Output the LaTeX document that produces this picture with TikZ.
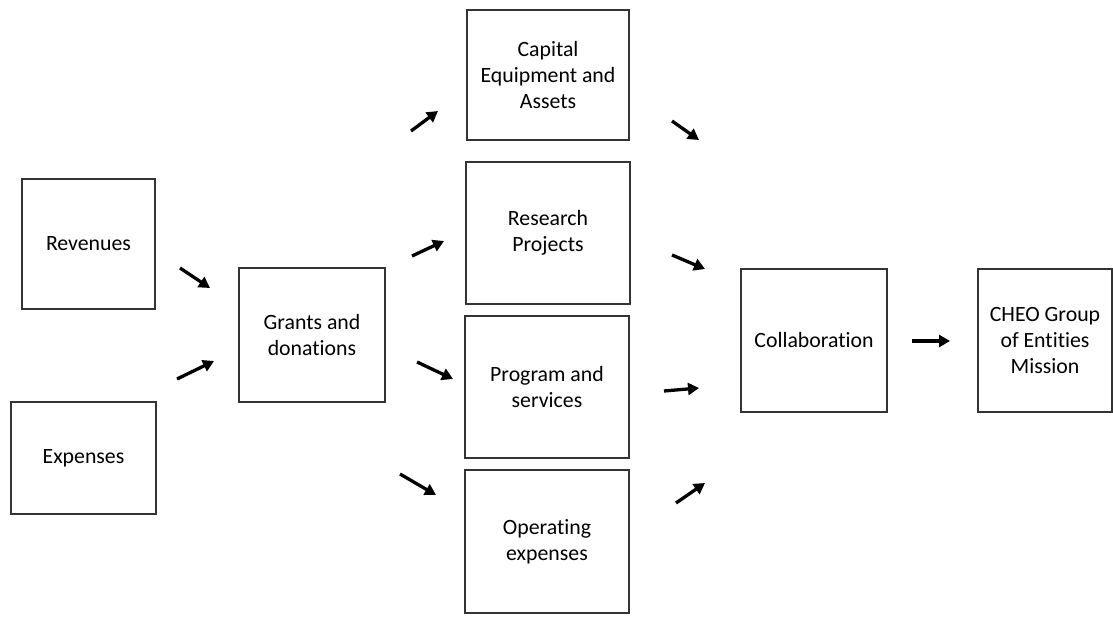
\documentclass[tikz,border=0pt]{standalone}
\usepackage{fontspec}
\setmainfont{Carlito}[Ligatures=NoCommon]
\usetikzlibrary{arrows.meta}
\begin{document}
\begin{tikzpicture}[x=1pt,y=-1pt,
  box/.style={draw=black!80,line width=1.2pt,rectangle,align=center,inner sep=0pt,
    font=\fontsize{21.8}{26}\selectfont},
  arr/.style={line width=3.3pt,-{Triangle[length=11pt,width=12pt]}}]
\useasboundingbox (0,0) rectangle (1113,616);
\node[box,minimum width=133pt,minimum height=130pt] (rev) at (88.5,244) {Revenues};
\node[box,minimum width=145pt,minimum height=112pt] (exp) at (83.5,458) {Expenses};
\node[box,minimum width=146pt,minimum height=134pt] (gra) at (312,335) {Grants and\\donations};
\node[box,minimum width=162pt,minimum height=130pt] (cap) at (548,75) {Capital\\Equipment and\\Assets};
\node[box,minimum width=164pt,minimum height=142pt] (res) at (548,233) {Research\\Projects};
\node[box,minimum width=164pt,minimum height=142pt] (pro) at (547,387) {Program and\\services};
\node[box,minimum width=164pt,minimum height=143pt] (ope) at (547,541.5) {Operating\\expenses};
\node[box,minimum width=146pt,minimum height=143pt] (col) at (814,340.5) {Collaboration};
\node[box,minimum width=134pt,minimum height=143pt] (che) at (1045,340.5) {CHEO Group\\of Entities\\Mission};
% free-standing arrows
\coordinate (a1s) at (180,268); \coordinate (a1e) at (210,288);
\coordinate (a2s) at (177,379); \coordinate (a2e) at (214,361);
\coordinate (a3s) at (411,131); \coordinate (a3e) at (438,111);
\coordinate (a4s) at (412,256); \coordinate (a4e) at (444,241);
\coordinate (a5s) at (417,362); \coordinate (a5e) at (453,379);
\coordinate (a6s) at (400,474); \coordinate (a6e) at (436,495);
\coordinate (a7s) at (672,121); \coordinate (a7e) at (699,140);
\coordinate (a8s) at (672,255); \coordinate (a8e) at (705,269);
\coordinate (a9s) at (664,391); \coordinate (a9e) at (699,388);
\coordinate (a10s) at (676,503); \coordinate (a10e) at (705,483);
\coordinate (a11s) at (912,341); \coordinate (a11e) at (950,341);
\foreach \i in {1,...,11} \draw[arr] (a\i s) -- (a\i e);
\end{tikzpicture}
\end{document}
